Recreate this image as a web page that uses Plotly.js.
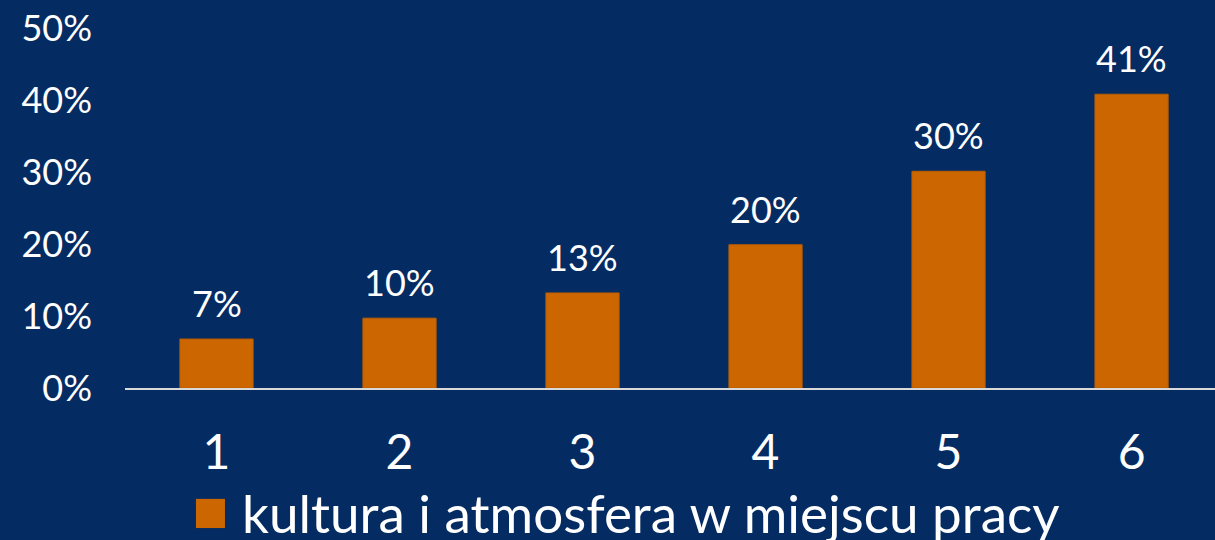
<!DOCTYPE html>
<html>
<head>
<meta charset="utf-8">
<script src="https://cdn.plot.ly/plotly-3.0.1.min.js"></script>
<style>html,body{margin:0;padding:0;background:#052C62;}#chart{width:1215px;height:540px;}</style>
</head>
<body>
<div id="chart"></div>
<script>
const categories = ['1', '2', '3', '4', '5', '6'];
const values = [0.068, 0.097, 0.132, 0.199, 0.301, 0.408];
const valueLabels = ['7%', '10%', '13%', '20%', '30%', '41%'];
const seriesName = 'kultura i atmosfera w miejscu pracy';
const yTickValues = [0, 0.1, 0.2, 0.3, 0.4, 0.5];
const yTickLabels = ['0%', '10%', '20%', '30%', '40%', '50%'];

const bg = '#052C62';
const barColor = '#CC6600';
const font = 'Lato, "Open Sans", sans-serif';

const trace = {
  type: 'bar',
  x: categories,
  y: values,
  name: seriesName,
  marker: {color: barColor, line: {color: '#BA5D00', width: 1}},
  width: 0.4,
  hoverinfo: 'none',
  showlegend: false
};

// category axis: annotations positioned by category index
const labelAnnotations = categories.map((c, i) => ({
  x: i, y: values[i], xref: 'x', yref: 'y',
  text: valueLabels[i], showarrow: false,
  xanchor: 'center', yanchor: 'bottom', yshift: 12,
  font: {family: font, size: 36, color: '#FFFFFF'}
}));

const layout = {
  width: 1215,
  height: 540,
  paper_bgcolor: bg,
  plot_bgcolor: bg,
  margin: {l: 125, r: 0, t: 28, b: 152},
  font: {family: font, color: '#FFFFFF'},
  xaxis: {
    type: 'category',
    range: [-0.5, 5.456],
    showgrid: false,
    zeroline: false,
    showline: true,
    linecolor: '#D9D9D9',
    linewidth: 2,
    ticks: 'outside',
    ticklen: 21,
    tickcolor: 'rgba(0,0,0,0)',
    tickfont: {family: font, size: 48, color: '#FFFFFF'},
    fixedrange: true
  },
  yaxis: {
    range: [0, 0.5],
    tickvals: yTickValues,
    ticktext: yTickLabels,
    showgrid: false,
    zeroline: false,
    showline: false,
    ticks: '',
    ticklabelstandoff: 32,
    tickfont: {family: font, size: 36, color: '#FFFFFF'},
    fixedrange: true
  },
  shapes: [{
    type: 'rect', xref: 'paper', yref: 'paper',
    x0: 0.0651, x1: 0.0917, y0: -0.389, y1: -0.308,
    fillcolor: barColor, line: {width: 0}
  }],
  annotations: labelAnnotations.concat([{
    xref: 'paper', yref: 'paper',
    x: 0.1055, y: -0.345,
    xanchor: 'left', yanchor: 'middle',
    text: seriesName,
    showarrow: false,
    font: {family: font, size: 53, color: '#FFFFFF'}
  }])
};

Plotly.newPlot('chart', [trace], layout, {displayModeBar: false, staticPlot: true});
</script>
</body>
</html>
